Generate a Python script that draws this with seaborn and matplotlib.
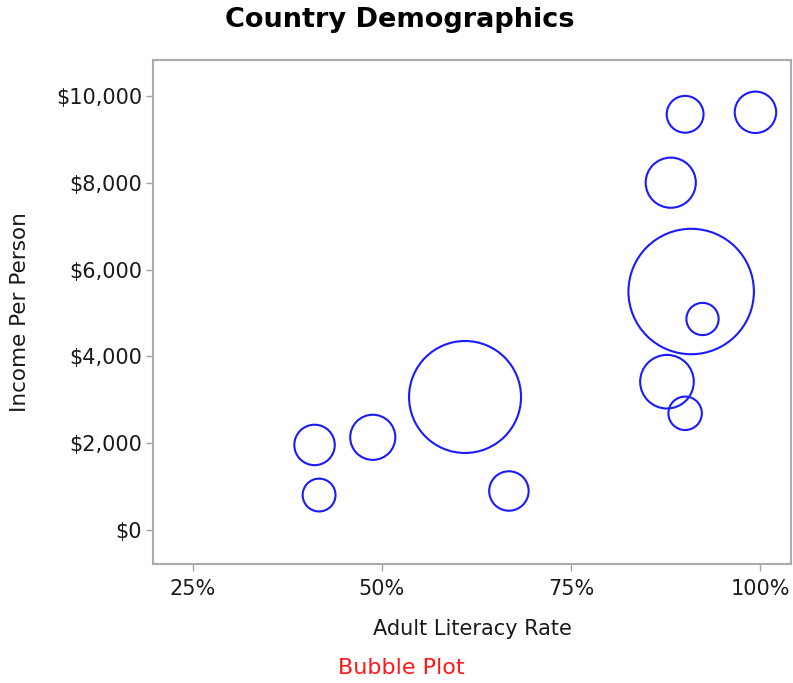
import numpy as np
import pandas as pd
import seaborn as sns
import matplotlib.pyplot as plt
from matplotlib.ticker import FuncFormatter

# data
literacy = [41.1, 41.7, 48.8, 61.0, 66.8, 87.7, 90.1, 90.9, 92.4, 88.2, 90.1, 99.4]
income = [1960, 806, 2136, 3065, 899, 3417, 2689, 5495, 4862, 8002, 9578, 9624]
population = [41, 27, 51, 314, 39, 72, 28, 394, 26, 63, 34, 43]

data = pd.DataFrame({'Literacy': literacy, 'Income': income, 'Population': population})

sns.set_style('white')
plt.rcParams['font.family'] = ['DejaVu Sans']

fig = plt.figure(figsize=(7.93, 6.83), dpi=100)
ax = fig.add_axes([153 / 793, 119 / 683, 638 / 793, 504 / 683])

# bubble area proportional to population
pmax = max(population)
sns.scatterplot(x='Literacy', y='Income', size='Population', data=data, ax=ax,
                sizes=(0, 20.7 * pmax), size_norm=(0, pmax), legend=False,
                facecolor='none', edgecolor='#1a1aff', linewidth=1.5)

ax.set_xlim(19.74, 104.1)
ax.set_ylim(-783, 10829)
ax.set_xticks([25, 50, 75, 100])
ax.set_yticks([0, 2000, 4000, 6000, 8000, 10000])
ax.xaxis.set_major_formatter(FuncFormatter(lambda v, p: f'{v:.0f}%'))
ax.yaxis.set_major_formatter(FuncFormatter(lambda v, p: f'${v:,.0f}'))
ax.tick_params(axis='both', direction='out', length=5, width=1, color='#a0a4a8',
               labelsize=15, labelcolor='#1a1a1a')
ax.tick_params(axis='x', pad=6)
ax.tick_params(axis='y', pad=3)
ax.tick_params(bottom=True, left=True)
for s in ax.spines.values():
    s.set_color('#a8acb0')
    s.set_linewidth(1.5)

ax.set_xlabel('Adult Literacy Rate', fontsize=15, color='#1a1a1a', va='center')
ax.xaxis.set_label_coords(0.5, -(629 - 564) / 504)
ax.set_ylabel('Income Per Person', fontsize=15.5, color='#1a1a1a', va='center')
ax.yaxis.set_label_coords((20 - 153) / 638, 0.5)

fig.text(400 / 793, 1 - 20 / 683, 'Country Demographics', ha='center', va='center',
         fontsize=19.5, fontweight='bold', color='black')
fig.text(401 / 793, 1 - 668 / 683, 'Bubble Plot', ha='center', va='center',
         fontsize=16, color='#ff1a1a')

fig.savefig('out.png', dpi=100)
